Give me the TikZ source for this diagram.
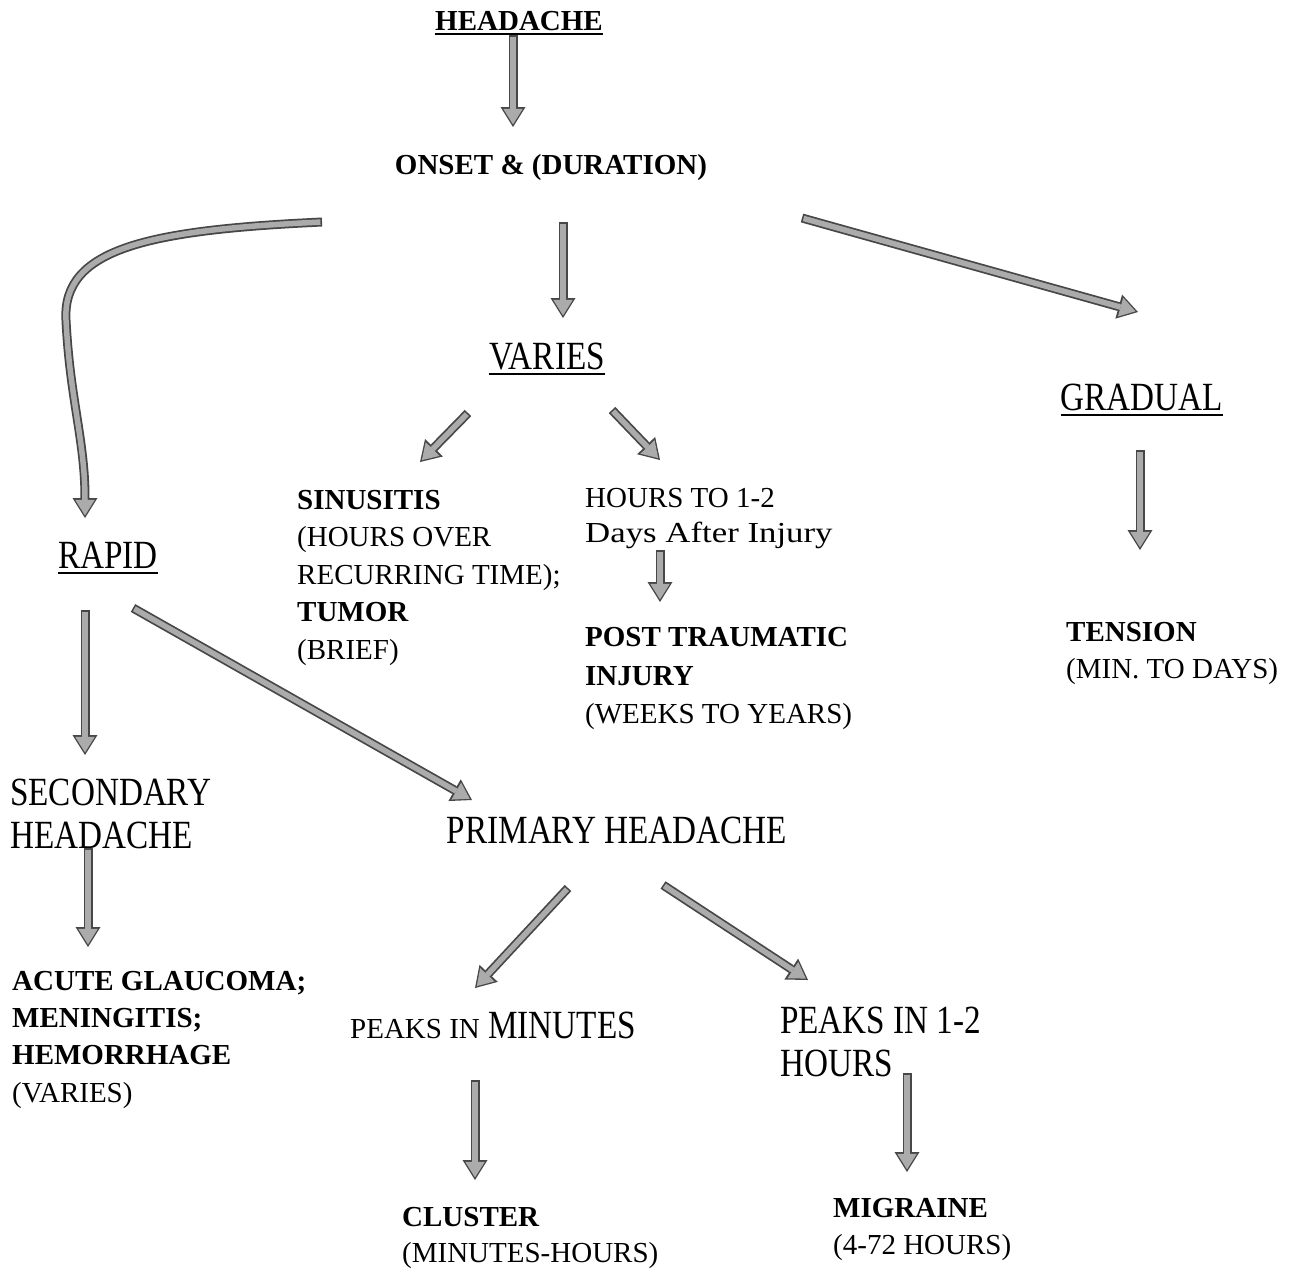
\documentclass[tikz,border=0pt]{standalone}
\usepackage{fontspec}
\setmainfont{Liberation Serif}
\newfontfamily\bigfont{Liberation Serif}[FakeStretch=0.83]
\usetikzlibrary{arrows.meta}
\begin{document}
\begin{tikzpicture}[x=1pt,y=-1pt,
  txt/.style={inner sep=0pt, anchor=base west, font=\fontsize{29}{35}\selectfont},
  bld/.style={inner sep=0pt, anchor=base west, font=\fontsize{29}{35}\selectfont\bfseries},
  big/.style={inner sep=0pt, anchor=base west, font=\bigfont\fontsize{40}{48}\selectfont},
  ulline/.style={line width=1.6pt, black},
  blk/.style={line width=5.5pt, draw=black!33,
    -{Triangle[length=15.5pt,width=19.5pt,line width=0pt]},
    shorten >=2.6pt, shorten <=1.6pt,
    preaction={draw=black!72, line width=9pt,
      -{Triangle[length=20pt,width=25pt,line width=0pt]},
      shorten >=0pt, shorten <=0pt}}]
\useasboundingbox (0,0) rectangle (1303,1270);
\fill[white] (0,0) rectangle (1303,1270);

% ---- headings and text blocks ----
\node[bld, anchor=base] (head) at (519,30) {HEADACHE};
\draw[ulline] ([yshift=-4pt]head.base west) -- ([yshift=-4pt]head.base east);
\node[bld, anchor=base] (onset) at (551,174) {ONSET \& (DURATION)};

\node[big, anchor=base] (varies) at (547,369) {VARIES};
\draw[ulline] ([yshift=-5pt]varies.base west) -- ([yshift=-5pt]varies.base east);
\node[big, anchor=base] (gradual) at (1142,410) {GRADUAL};
\draw[ulline] ([yshift=-5pt]gradual.base west) -- ([yshift=-5pt]gradual.base east);
\node[big, anchor=base] (rapid) at (108,568) {RAPID};
\draw[ulline] ([yshift=-5pt]rapid.base west) -- ([yshift=-5pt]rapid.base east);

\node[bld] (sin1) at (297,509) {SINUSITIS};
\node[txt] (sin2) at (297,546.5) {(HOURS OVER};
\node[txt] (sin3) at (297,584) {RECURRING TIME);};
\node[bld] (sin4) at (297,621) {TUMOR};
\node[txt] (sin5) at (297,659) {(BRIEF)};

\node[txt] (hrs1) at (585,507) {HOURS TO 1-2};
\node[txt] (hrs2) at (585,542) {\addfontfeature{FakeStretch=1.2}Days After Injury};

\node[bld] (post1) at (585,646) {POST TRAUMATIC};
\node[bld] (post2) at (585,685) {INJURY};
\node[txt] (post3) at (585,723) {(WEEKS TO YEARS)};

\node[bld] (ten1) at (1066,641) {TENSION};
\node[txt] (ten2) at (1066,678) {(MIN. TO DAYS)};

\node[big] (sec1) at (10,805) {SECONDARY};
\node[big] (sec2) at (10,848) {HEADACHE};

\node[big, anchor=base] (prim) at (617,843) {PRIMARY HEADACHE};

\node[bld] (ac1) at (12,990) {ACUTE GLAUCOMA;};
\node[bld] (ac2) at (12,1027) {MENINGITIS;};
\node[bld] (ac3) at (12,1064) {HEMORRHAGE};
\node[txt] (ac4) at (12,1102) {(VARIES)};

\node[txt] (pm1) at (350,1038) {PEAKS IN};
\node[big] (pm2) at (pm1.base east) [xshift=8pt] {MINUTES};

\node[big] (ph1) at (780,1033) {PEAKS IN 1-2};
\node[big] (ph2) at (780,1076) {HOURS};

\node[bld] (cl1) at (402,1226) {CLUSTER};
\node[txt] (cl2) at (402,1262) {(MINUTES-HOURS)};

\node[bld] (mg1) at (833,1217) {MIGRAINE};
\node[txt] (mg2) at (833,1254) {(4-72 HOURS)};

% ---- arrow end points ----
\coordinate (headS)   at (513,35);   \coordinate (onsetN)  at (513,127);
\coordinate (onsetS)  at (563,222);  \coordinate (variesN) at (563,318);
\coordinate (onsetE)  at (802,218);  \coordinate (gradN)   at (1138,312);
\coordinate (onsetW)  at (322,222);  \coordinate (rapidN)  at (85,518);
\coordinate (variesW) at (468,413);  \coordinate (sinN)    at (420,462);
\coordinate (variesE) at (612,410);  \coordinate (hrsN)    at (660,460);
\coordinate (gradS)   at (1140,450); \coordinate (tenN)    at (1140,550);
\coordinate (hrsS)    at (660,550);  \coordinate (postN)   at (660,602);
\coordinate (rapidS)  at (85,610);   \coordinate (secN)    at (85,755);
\coordinate (rapidE)  at (133,608);  \coordinate (primN)   at (472,800);
\coordinate (secS)    at (88,848);   \coordinate (acN)     at (88,947);
\coordinate (primSW)  at (568,888);  \coordinate (pmN)     at (475,988);
\coordinate (primSE)  at (663,885);  \coordinate (phN)     at (808,980);
\coordinate (pmS)     at (475,1080); \coordinate (clN)     at (475,1180);
\coordinate (phS)     at (907,1073); \coordinate (mgN)     at (907,1172);

% ---- arrows ----
\draw[blk] (headS) -- (onsetN);
\draw[blk] (onsetS) -- (variesN);
\draw[blk] (onsetE) -- (gradN);
\draw[blk] (onsetW) .. controls (150,230) and (62,248) .. (66,320)
                    .. controls (70,400) and (85,440) .. (rapidN);
\draw[blk] (variesW) -- (sinN);
\draw[blk] (variesE) -- (hrsN);
\draw[blk] (gradS) -- (tenN);
\draw[blk] (hrsS) -- (postN);
\draw[blk] (rapidS) -- (secN);
\draw[blk] (rapidE) -- (primN);
\draw[blk] (secS) -- (acN);
\draw[blk] (primSW) -- (pmN);
\draw[blk] (primSE) -- (phN);
\draw[blk] (pmS) -- (clN);
\draw[blk] (phS) -- (mgN);
\end{tikzpicture}
\end{document}
